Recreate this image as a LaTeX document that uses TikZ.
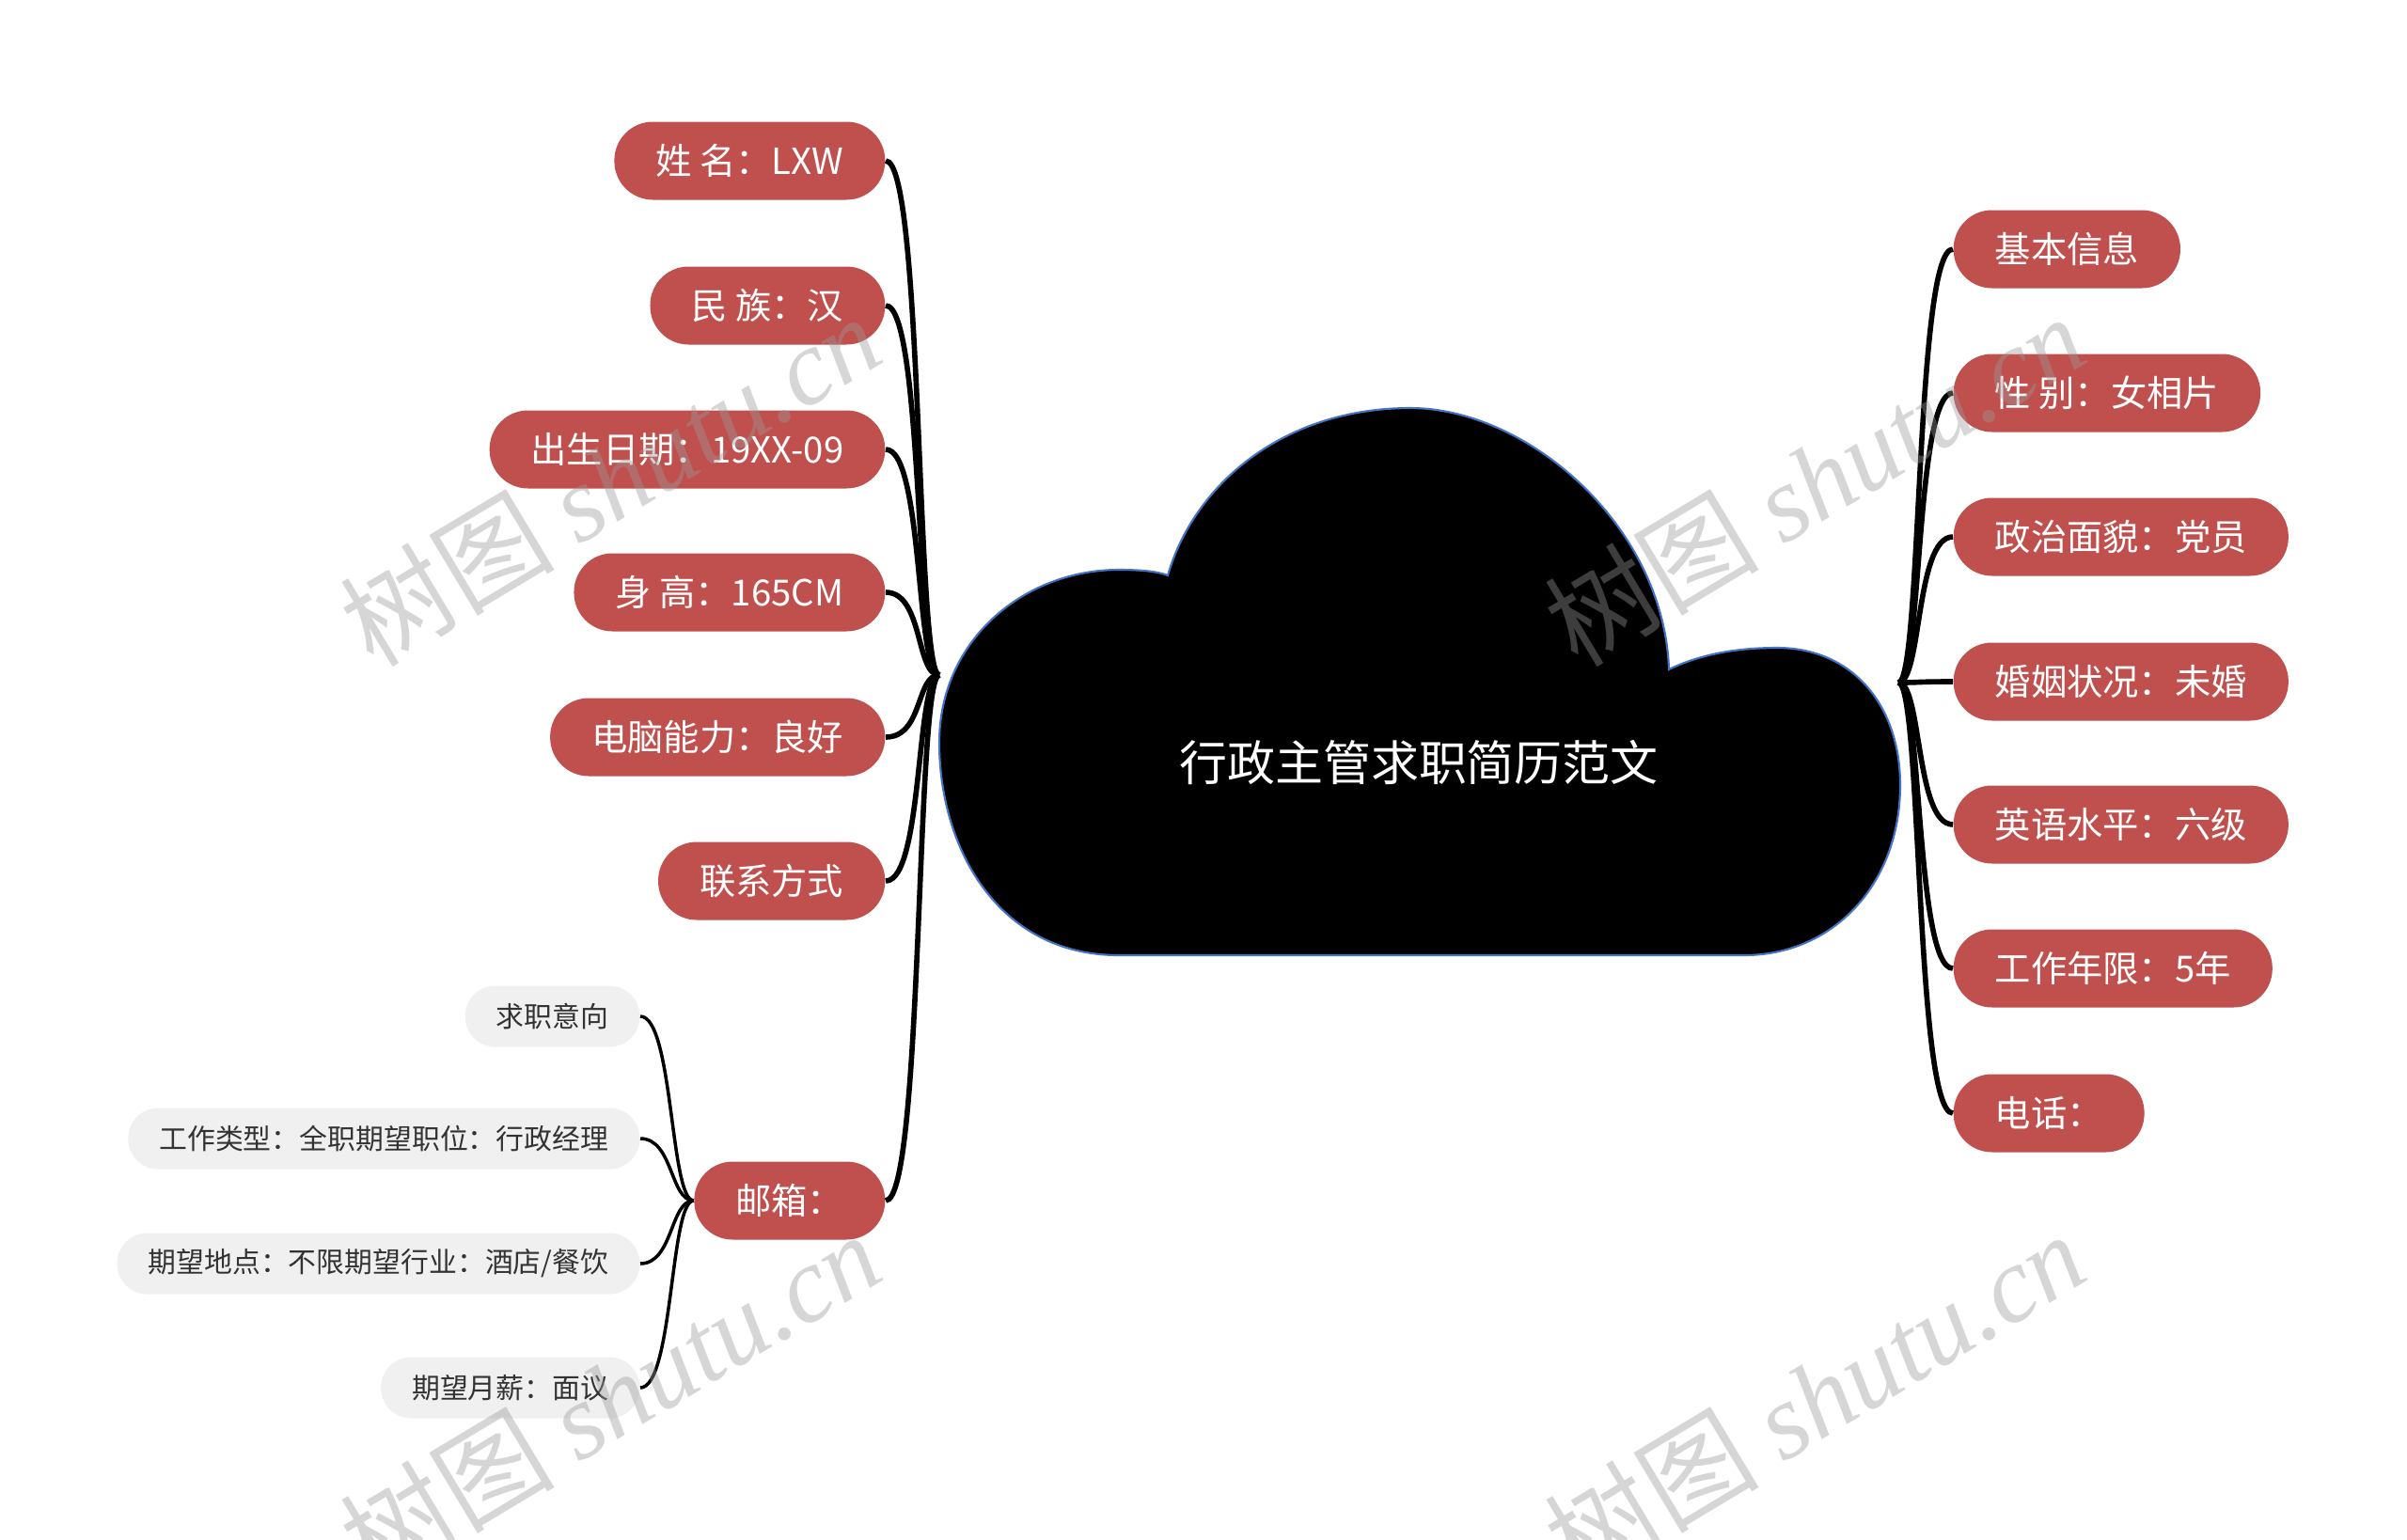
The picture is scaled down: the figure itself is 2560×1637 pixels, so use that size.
\documentclass[tikz,border=0pt]{standalone}
\usepackage{fontspec}
\setmainfont{Noto Sans CJK SC}
\newfontfamily\wmserif{Liberation Serif}
\usepackage{tikz}
\usetikzlibrary{positioning, calc}
\definecolor{mmred}{RGB}{192, 80, 77}
\definecolor{mmgrey}{RGB}{240, 240, 240}
\definecolor{mmtext}{RGB}{51, 51, 51}
\definecolor{mmblue}{RGB}{68, 114, 196}

\begin{document}
\begin{tikzpicture}[
  x=0.1mm, y=-0.1mm,
  topic/.style={rectangle, rounded corners=4.1mm, fill=mmred, text=white, minimum height=8.3mm, inner xsep=4.4mm, inner ysep=0pt, font=\fontsize{10.9}{13}\selectfont},
  subtopic/.style={rectangle, rounded corners=3.2mm, fill=mmgrey, text=mmtext, minimum height=6.5mm, inner xsep=3.3mm, inner ysep=0pt, font=\fontsize{8.5}{10}\selectfont},
  link/.style={line width=1.6pt, draw=black},
  sublink/.style={line width=1pt, draw=black},
  wmark/.style={text=black!40, text opacity=0.4, rotate=31, font=\fontsize{32.5}{36}\selectfont}
]

  \fill[white] (0,0) rectangle (2560,1637);
  \useasboundingbox (0,0) rectangle (2560,1637);

  % central cloud
  \filldraw[fill=black, draw=mmblue, line width=0.6pt]
    (1242,612) .. controls (1270,515) and (1365,434) .. (1500,434)
    .. controls (1625,434) and (1770,560) .. (1775,712)
    .. controls (1810,695) and (1850,689) .. (1890,689)
    .. controls (1970,689) and (2021,750) .. (2021,835)
    .. controls (2021,940) and (1950,1016) .. (1855,1016)
    -- (1190,1016)
    .. controls (1060,1016) and (999,900) .. (999,790)
    .. controls (999,680) and (1090,606) .. (1190,606)
    .. controls (1215,606) and (1232,608) .. (1242,612) -- cycle;
  \node[text=white, font=\fontsize{14.5}{17}\selectfont] (title) at (1509,811) {行政主管求职简历范文};

  \coordinate (hubL) at (999,718);
  \coordinate (hubR) at (2019,726);

  % left branch
  \node[topic, anchor=east] (name) at (942,171) {姓 名：LXW};
  \node[topic, anchor=east] (nation) at (942,325) {民 族：汉};
  \node[topic, anchor=east] (birth) at (942,478) {出生日期：19XX-09};
  \node[topic, anchor=east] (height) at (942,630) {身 高：165CM};
  \node[topic, anchor=east] (computer) at (942,784) {电脑能力：良好};
  \node[topic, anchor=east] (contact) at (942,937) {联系方式};
  \node[topic, anchor=east] (mail) at (942,1277) {邮箱：};

  % right branch
  \node[topic, anchor=west] (basic) at (2077,265) {基本信息};
  \node[topic, anchor=west] (gender) at (2077,418) {性 别：女相片};
  \node[topic, anchor=west] (party) at (2077,571) {政治面貌：党员};
  \node[topic, anchor=west] (marriage) at (2077,725) {婚姻状况：未婚};
  \node[topic, anchor=west] (english) at (2077,877) {英语水平：六级};
  \node[topic, anchor=west] (years) at (2077,1030) {工作年限：5年};
  \node[topic, anchor=west] (phone) at (2077,1184) {电话：};

  % job intention under mail
  \node[subtopic, anchor=east] (intent) at (681,1081) {求职意向};
  \node[subtopic, anchor=east] (jobtype) at (681,1211) {工作类型：全职期望职位：行政经理};
  \node[subtopic, anchor=east] (place) at (681,1344) {期望地点：不限期望行业：酒店/餐饮};
  \node[subtopic, anchor=east] (salary) at (681,1476) {期望月薪：面议};

  \draw[link] (hubL) .. controls +(-25,0) and +(40,0) .. (name.east);
  \draw[link] (hubL) .. controls +(-25,0) and +(40,0) .. (nation.east);
  \draw[link] (hubL) .. controls +(-25,0) and +(40,0) .. (birth.east);
  \draw[link] (hubL) .. controls +(-25,0) and +(40,0) .. (height.east);
  \draw[link] (hubL) .. controls +(-25,0) and +(40,0) .. (computer.east);
  \draw[link] (hubL) .. controls +(-25,0) and +(40,0) .. (contact.east);
  \draw[link] (hubL) .. controls +(-25,0) and +(40,0) .. (mail.east);

  \draw[link] (hubR) .. controls +(25,0) and +(-40,0) .. (basic.west);
  \draw[link] (hubR) .. controls +(25,0) and +(-40,0) .. (gender.west);
  \draw[link] (hubR) .. controls +(25,0) and +(-40,0) .. (party.west);
  \draw[link] (hubR) .. controls +(25,0) and +(-40,0) .. (marriage.west);
  \draw[link] (hubR) .. controls +(25,0) and +(-40,0) .. (english.west);
  \draw[link] (hubR) .. controls +(25,0) and +(-40,0) .. (years.west);
  \draw[link] (hubR) .. controls +(25,0) and +(-40,0) .. (phone.west);

  \draw[sublink] (mail.west) .. controls +(-25,0) and +(35,0) .. (intent.east);
  \draw[sublink] (mail.west) .. controls +(-25,0) and +(35,0) .. (jobtype.east);
  \draw[sublink] (mail.west) .. controls +(-25,0) and +(35,0) .. (place.east);
  \draw[sublink] (mail.west) .. controls +(-25,0) and +(35,0) .. (salary.east);

  % watermarks
  \node[wmark] (wm1) at (649,510) {树图 {\wmserif\itshape shutu.cn}};
  \node[wmark] (wm2) at (1930,510) {树图 {\wmserif\itshape shutu.cn}};
  \node[wmark] (wm3) at (649,1486) {树图 {\wmserif\itshape shutu.cn}};
  \node[wmark] (wm4) at (1930,1486) {树图 {\wmserif\itshape shutu.cn}};

\end{tikzpicture}
\end{document}
